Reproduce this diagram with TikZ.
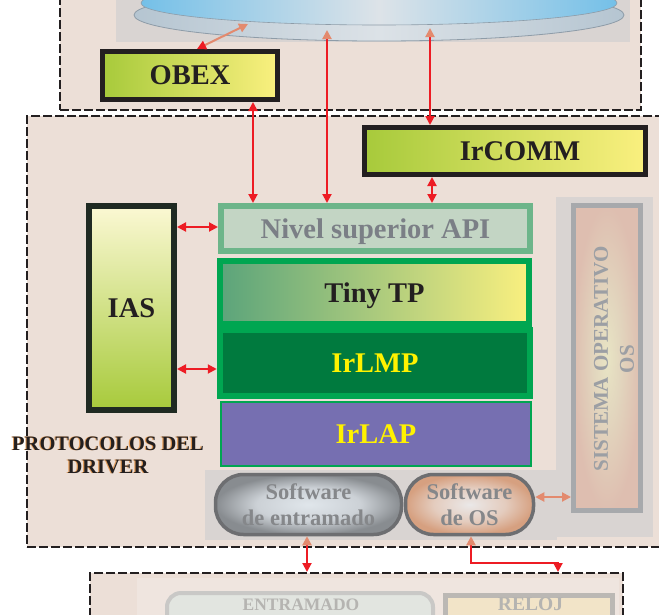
\documentclass[tikz,border=0pt]{standalone}
\usepackage{fontspec}
\setmainfont{Liberation Serif}
\usetikzlibrary{arrows.meta,shapes.geometric}

\definecolor{beige}{HTML}{ECDFD7}
\definecolor{beigelight}{HTML}{EFE5DF}
\definecolor{panelgray}{HTML}{D9D4D2}
\definecolor{dashink}{HTML}{231F20}
\definecolor{ink}{HTML}{231F20}
\definecolor{arrowred}{HTML}{ED1C24}
\definecolor{salmon}{HTML}{E38A6E}
\definecolor{rimline}{HTML}{8E9CA8}
\definecolor{rimside}{HTML}{B5C5D1}
\definecolor{rimmid}{HTML}{DCE2E7}
\definecolor{skyblue}{HTML}{74C0E8}
\definecolor{skymid}{HTML}{DDE3E8}
\definecolor{limegreen}{HTML}{A7CA3B}
\definecolor{paleyellow}{HTML}{FAF07F}
\definecolor{paleyellowtop}{HTML}{FBF8D3}
\definecolor{iasedge}{HTML}{1F2A22}
\definecolor{apiedge}{HTML}{6DB58A}
\definecolor{apifill}{HTML}{C3D5C4}
\definecolor{apitext}{HTML}{7B7F86}
\definecolor{layergreen}{HTML}{00A651}
\definecolor{seagreen}{HTML}{5BA47B}
\definecolor{deepgreen}{HTML}{007A3E}
\definecolor{violetfill}{HTML}{766FB1}
\definecolor{signyellow}{HTML}{FFF200}
\definecolor{pilledge}{HTML}{6D6E71}
\definecolor{pilltext}{HTML}{85878A}
\definecolor{osedge}{HTML}{A7A9AC}
\definecolor{ostext}{HTML}{9C9FA4}
\definecolor{glow}{HTML}{E39A55}
\definecolor{lowedge}{HTML}{C9C8C6}
\definecolor{lowfill}{HTML}{E2E5E0}
\definecolor{clockedge}{HTML}{BBB8B4}
\definecolor{clockfill}{HTML}{F2E4C8}
\definecolor{lowtext}{HTML}{B5B4B1}

% soft radial fills for the two software pills and the OS column
\pgfdeclareradialshading{pillsteel}{\pgfpoint{0bp}{0bp}}{%
  color(0bp)=(rgb,255:red,224;green,230;blue,235);
  color(14bp)=(rgb,255:red,204;green,209;blue,214);
  color(25bp)=(rgb,255:red,136;green,140;blue,144);
  color(50bp)=(rgb,255:red,136;green,140;blue,144)}
\pgfdeclareradialshading{pillcopper}{\pgfpoint{0bp}{0bp}}{%
  color(0bp)=(rgb,255:red,234;green,232;blue,232);
  color(14bp)=(rgb,255:red,228;green,204;blue,190);
  color(25bp)=(rgb,255:red,214;green,160;blue,128);
  color(50bp)=(rgb,255:red,214;green,160;blue,128)}
\pgfdeclareradialshading{osglow}{\pgfpoint{0bp}{0bp}}{%
  color(0bp)=(rgb,255:red,232;green,228;blue,196);
  color(10bp)=(rgb,255:red,226;green,214;blue,190);
  color(25bp)=(rgb,255:red,222;green,190;blue,176);
  color(50bp)=(rgb,255:red,222;green,190;blue,176)}

\tikzset{
  lbl/.style={font=\bfseries\fontsize{28.5}{31}\selectfont, text depth=0pt, inner sep=0pt},
  smalllbl/.style={font=\bfseries\fontsize{22.5}{26}\selectfont, text depth=0pt, inner sep=0pt, align=center},
  dashbox/.style={draw=dashink, fill=beige, line width=2pt, dash pattern=on 9pt off 3pt, inner sep=0pt},
  hardbox/.style={draw=ink, line width=5pt, left color=limegreen, right color=paleyellow, lbl, text=ink},
  layerbox/.style={draw=layergreen, lbl},
  pill/.style={draw=pilledge, line width=3.5pt, rounded corners=28pt, smalllbl, text=pilltext},
  redarrow/.style={draw=arrowred, line width=2pt,
    arrows={Triangle[length=9pt,width=9pt]-Triangle[length=9pt,width=9pt]}},
  redfrom/.style={draw=arrowred, line width=2pt,
    arrows={Triangle[length=9pt,width=9pt,color=salmon]-Triangle[length=9pt,width=9pt]}},
  salarrow/.style={draw=salmon, line width=2pt,
    arrows={Triangle[length=9pt,width=9pt]-Triangle[length=9pt,width=9pt]}},
  salred/.style={draw=salmon, line width=2pt,
    arrows={Triangle[length=9pt,width=9pt]-Triangle[length=9pt,width=9pt,color=arrowred]}},
}

\begin{document}
\begin{tikzpicture}[x=1pt,y=-1pt]
\clip (0,0) rectangle (659,614);

% ---------- upper enclosure with the disk ----------
\node[dashbox, minimum width=581, minimum height=130] (topbox) at (350.5,45) {};
\fill[panelgray] (116,-5) rectangle (630,42);
\node[ellipse, draw=rimline, line width=0.8pt, left color=rimside, right color=rimside,
      middle color=rimmid, minimum width=490, minimum height=52, inner sep=0pt] (disk) at (379,15) {};
\node[ellipse, draw=rimline, line width=0.6pt, left color=skyblue, right color=skyblue,
      middle color=skymid, minimum width=476, minimum height=44, inner sep=0pt] (disktop) at (379,3) {};

\node[hardbox, minimum width=175, minimum height=48] (obex) at (190,75.5) {OBEX};

% ---------- driver enclosure ----------
\node[dashbox, minimum width=673, minimum height=431] (drvbox) at (363.5,331.5) {};

\node[hardbox, minimum width=281, minimum height=47,
      label={[lbl, text=ink, xshift=15pt]center:IrCOMM}] (ircomm) at (505,151) {};

\node[draw=iasedge, line width=6pt, top color=paleyellowtop, bottom color=limegreen,
      minimum width=85, minimum height=204, lbl, text=ink] (ias) at (131.5,308) {IAS};

\node[draw=apiedge, line width=6pt, fill=apifill, minimum width=309, minimum height=45,
      lbl, text=apitext] (api) at (375.5,228.5) {Nivel superior API};
\node[layerbox, line width=6pt, left color=seagreen, right color=paleyellow,
      minimum width=309, minimum height=63, text=ink] (tinytp) at (374.5,292.5) {Tiny TP};
\node[layerbox, line width=6.5pt, fill=deepgreen, minimum width=310, minimum height=66,
      text=signyellow] (irlmp) at (375,363) {IrLMP};
\node[layerbox, line width=2pt, fill=violetfill, minimum width=310, minimum height=64,
      text=signyellow] (irlap) at (376,434) {IrLAP};

\node[font=\bfseries\fontsize{20.5}{23}\selectfont, align=center, text depth=0pt,
      inner sep=0pt, text=glow] (drvglow) at (106.8,455) {PROTOCOLOS DEL\\DRIVER};
\node[font=\bfseries\fontsize{20.5}{23}\selectfont, align=center, text depth=0pt,
      inner sep=0pt, text=ink] (drvlabel) at (108,455) {PROTOCOLOS DEL\\DRIVER};

% software strip and operating system column
\fill[panelgray] (205,470) rectangle (557,540);
\fill[panelgray] (556,197) rectangle (653,537);

\node[pill, shading=pillsteel, minimum width=186, minimum height=60]
      (swframe) at (308.5,504.5) {Software\\de entramado};
\node[pill, shading=pillcopper, minimum width=128, minimum height=60]
      (swos) at (469.5,504.5) {Software\\de OS};

\node[draw=osedge, line width=5pt, shading=osglow,
      minimum width=67, minimum height=305] (osbox) at (607,358) {};
\node[rotate=90, font=\bfseries\fontsize{21}{26}\selectfont, align=center, text depth=0pt,
      inner sep=0pt, text=ostext] (ostitle) at (614,359) {SISTEMA OPERATIVO\\OS};

% ---------- lower enclosure ----------
\node[dashbox, minimum width=533, minimum height=87] (lowbox) at (356.5,616.5) {};
\fill[beigelight] (137,578) rectangle (619,630);
\node[draw=lowedge, line width=4pt, fill=lowfill, rounded corners=14pt,
      minimum width=266, minimum height=57] (framer) at (300,621.5) {};
\node[anchor=base, font=\bfseries\fontsize{17.5}{20}\selectfont, inner sep=0pt, text=lowtext]
      (framertxt) at (301,610) {ENTRAMADO};
\node[draw=clockedge, line width=5pt, fill=clockfill, minimum width=167, minimum height=54.5]
      (clock) at (529,622.75) {};
\node[anchor=base, font=\bfseries\fontsize{19.5}{22}\selectfont, inner sep=0pt, text=lowtext]
      (clocktxt) at (530.5,610) {RELOJ};

% ---------- connectors ----------
\coordinate (dA) at (248,24);
\coordinate (dB) at (327,30);
\coordinate (dC) at (430,28);
\coordinate (colA) at (253,0);
\coordinate (colC) at (432,0);
\coordinate (rowA) at (0,227);
\coordinate (rowB) at (0,369);
\coordinate (rowC) at (0,497);
\coordinate (colD) at (307,0);
\coordinate (colE) at (471,0);
\coordinate (bend) at (558,563);

\draw[salred] (dA) -- ([xshift=7pt]obex.north);
\draw[redarrow] (obex.south -| colA) -- (api.north -| colA);
\draw[redfrom] (dB) -- (api.north -| dB);
\draw[redfrom] (dC) -- (ircomm.north -| dC);
\draw[redarrow] (ircomm.south -| colC) -- (api.north -| colC);
\draw[redarrow] (ias.east |- rowA) -- (api.west |- rowA);
\draw[redarrow] (ias.east |- rowB) -- (irlmp.west |- rowB);
\draw[salarrow] (swos.east |- rowC) -- (osbox.west |- rowC);
\draw[redfrom] (swframe.south -| colD) -- (lowbox.north -| colD);
\draw[redfrom] (swos.south -| colE) |- (bend) -- (lowbox.north -| bend);
\end{tikzpicture}
\end{document}
